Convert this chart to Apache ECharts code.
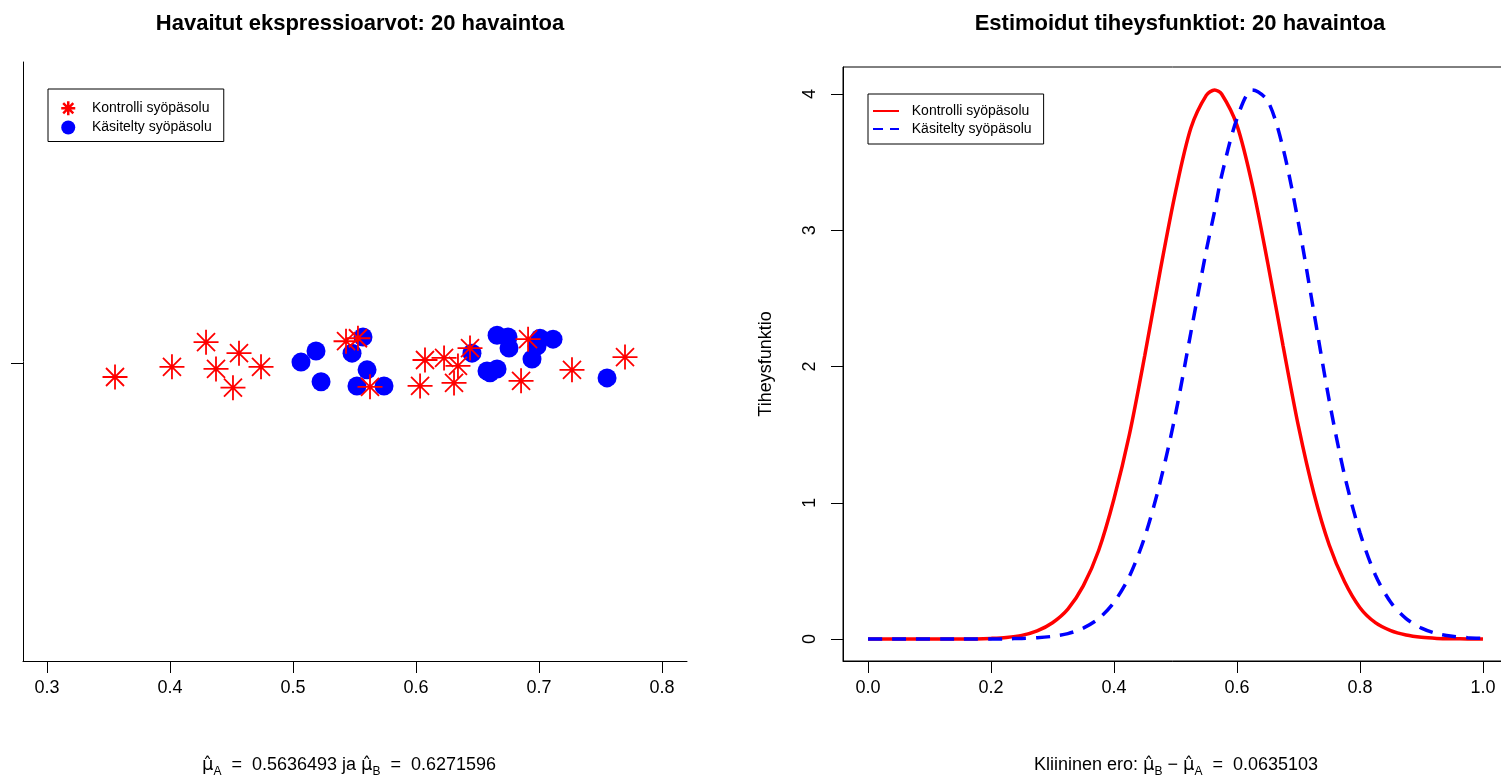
<!DOCTYPE html>
<html>
<head>
<meta charset="utf-8">
<script src="https://cdn.jsdelivr.net/npm/echarts@6/dist/echarts.min.js"></script>
<style>
  html, body { margin: 0; padding: 0; background: #fff; }
  #main { width: 1501px; height: 778px; }
</style>
</head>
<body>
<div id="main"></div>
<script>
// havainnot (vasen kuva)
const ctrlX = [0.3553, 0.4016, 0.4293, 0.4374, 0.4561, 0.4512, 0.474, 0.5431, 0.5528, 0.5626,
               0.6033, 0.6073, 0.6228, 0.6341, 0.6309, 0.6439, 0.6911, 0.6854, 0.7268, 0.7699];
const ctrlY = [0.953, 0.987, 1.070, 0.980, 1.033, 0.917, 0.987, 1.073, 1.083, 0.920,
               0.923, 1.010, 1.017, 0.990, 0.933, 1.050, 1.080, 0.940, 0.977, 1.020];
const trtX = [0.5065, 0.5187, 0.5228, 0.548, 0.5569, 0.5602, 0.552, 0.574, 0.6455, 0.6659,
              0.6748, 0.6756, 0.6602, 0.6659, 0.6943, 0.7008, 0.7114, 0.7553, 0.6984, 0.6577];
const trtY = [1.003, 1.040, 0.937, 1.033, 1.087, 0.977, 0.923, 0.923, 1.033, 1.093,
              1.087, 1.050, 0.967, 0.980, 1.013, 1.083, 1.080, 0.950, 1.057, 0.973];

// tiheysfunktiot (oikea kuva)
const gridX = [0, 0.025, 0.05, 0.075, 0.1, 0.125, 0.15, 0.175, 0.2, 0.225, 0.25, 0.275, 0.3, 0.325,
               0.35, 0.375, 0.4, 0.425, 0.45, 0.475, 0.5, 0.525, 0.55, 0.5636, 0.575, 0.6, 0.625, 0.65,
               0.675, 0.7, 0.725, 0.75, 0.775, 0.8, 0.825, 0.85, 0.875, 0.9, 0.925, 0.95, 0.975, 1.0];
const densA = [0, 0, 0, 0, 0, 0, 0, 0.001, 0.005, 0.012, 0.027, 0.06, 0.12, 0.22,
               0.39, 0.65, 1.03, 1.5, 2.08, 2.7, 3.28, 3.75, 3.99, 4.03, 4.0, 3.77, 3.33, 2.76,
               2.15, 1.56, 1.07, 0.69, 0.42, 0.23, 0.12, 0.062, 0.03, 0.013, 0.005, 0.002, 0.001, 0];
const densB = [0, 0, 0, 0, 0, 0, 0, 0, 0, 0.002, 0.005, 0.01, 0.02, 0.04,
               0.08, 0.15, 0.27, 0.46, 0.75, 1.15, 1.65, 2.25, 2.85, 3.14, 3.4, 3.82, 4.03, 3.95,
               3.6, 3.05, 2.4, 1.75, 1.2, 0.78, 0.47, 0.27, 0.15, 0.08, 0.04, 0.02, 0.01, 0.005];

const leftTicks = [0.3, 0.4, 0.5, 0.6, 0.7, 0.8];
const rightXTicks = [0, 0.2, 0.4, 0.6, 0.8, 1.0];
const rightYTicks = [0, 1, 2, 3, 4];

const labelsA = 'Kontrolli syöpäsolu';
const labelsB = 'Käsitelty syöpäsolu';

const FONT = '"Liberation Sans", Arial, Helvetica, sans-serif';
const MU_FONT = '"DejaVu Sans", "Liberation Sans", sans-serif';
const starPath = 'path://M0,-1L0,1M-1,0L1,0M-0.72,-0.72L0.72,0.72M-0.72,0.72L0.72,-0.72';

const chart = echarts.init(document.getElementById('main'));

const zip = (xs, ys) => xs.map((x, i) => [x, ys[i]]);

const formulaRich = {
  m: { fontSize: 18, fontFamily: MU_FONT, lineHeight: 26, verticalAlign: 'middle' },
  n: { fontSize: 18, fontFamily: FONT, lineHeight: 26, verticalAlign: 'middle' },
  s: { fontSize: 12, fontFamily: FONT, lineHeight: 26, verticalAlign: 'bottom' }
};

const option = {
  animation: false,
  textStyle: { fontFamily: FONT, color: '#000' },
  title: [
    { text: 'Havaitut ekspressioarvot: 20 havaintoa', left: 355, top: 8, textAlign: 'center',
      textStyle: { fontFamily: FONT, fontSize: 22, fontWeight: 'bold', color: '#000' } },
    { text: 'Estimoidut tiheysfunktiot: 20 havaintoa', left: 1175, top: 8, textAlign: 'center',
      textStyle: { fontFamily: FONT, fontSize: 22, fontWeight: 'bold', color: '#000' } }
  ],
  legend: [
    {
      left: 48, top: 89, orient: 'vertical',
      padding: [11, 12, 7, 12], itemGap: 4, itemWidth: 14, itemHeight: 14,
      borderColor: '#000', borderWidth: 1,
      formatter: name => '   ' + name,
      textStyle: { fontFamily: FONT, fontSize: 14, color: '#000' },
      data: [
        { name: labelsA, icon: starPath, itemStyle: { color: 'transparent', borderColor: '#ff0000', borderWidth: 2.5 } },
        { name: labelsB, icon: 'circle', itemStyle: { color: '#0000ff' } }
      ]
    },
    {
      left: 868, top: 94, orient: 'vertical',
      padding: [10, 12, 8, 4], itemGap: 4, itemWidth: 26, itemHeight: 14,
      borderColor: '#000', borderWidth: 1,
      formatter: name => '  ' + name.trim(),
      textStyle: { fontFamily: FONT, fontSize: 14, color: '#000' },
      data: [
        { name: labelsA + ' ', itemStyle: { opacity: 0 } },
        { name: labelsB + ' ', itemStyle: { opacity: 0 }, lineStyle: { type: [10, 7] } }
      ]
    }
  ],
  grid: [
    { left: 23, top: 62, width: 664, height: 599, outerBoundsMode: 'none', containLabel: false },
    { left: 843, top: 67, width: 665, height: 594, outerBoundsMode: 'none', containLabel: false,
      show: true, borderColor: '#000', borderWidth: 1, backgroundColor: 'transparent' }
  ],
  xAxis: [
    {
      gridIndex: 0, type: 'value', min: 0.2805, max: 0.8203,
      splitLine: { show: false },
      axisLine: { show: true, onZero: false, lineStyle: { color: '#000', width: 1 } },
      axisTick: { show: true, inside: false, length: 12, customValues: leftTicks, lineStyle: { color: '#000' } },
      axisLabel: { customValues: leftTicks, margin: 18, fontSize: 18, color: '#000', fontFamily: FONT,
        formatter: v => v.toFixed(1) }
    },
    {
      gridIndex: 1, type: 'value', min: -0.0407, max: 1.0407,
      splitLine: { show: false },
      axisLine: { show: true, onZero: false, lineStyle: { color: '#000', width: 1 } },
      axisTick: { show: true, inside: false, length: 12, customValues: rightXTicks, lineStyle: { color: '#000' } },
      axisLabel: { customValues: rightXTicks, margin: 18, fontSize: 18, color: '#000', fontFamily: FONT,
        formatter: v => v.toFixed(1) }
    }
  ],
  yAxis: [
    {
      gridIndex: 0, type: 'value', min: 0, max: 2.01,
      splitLine: { show: false },
      axisLine: { show: true, onZero: false, lineStyle: { color: '#000', width: 1 } },
      axisTick: { show: true, inside: false, length: 12, customValues: [1], lineStyle: { color: '#000' } },
      axisLabel: { show: false }
    },
    {
      gridIndex: 1, type: 'value', min: -0.161, max: 4.198,
      name: 'Tiheysfunktio', nameLocation: 'middle', nameGap: 68, nameRotate: 90,
      nameTextStyle: { fontSize: 18, color: '#000', fontFamily: FONT },
      splitLine: { show: false },
      axisLine: { show: true, onZero: false, lineStyle: { color: '#000', width: 1 } },
      axisTick: { show: true, inside: false, length: 12, customValues: rightYTicks, lineStyle: { color: '#000' } },
      axisLabel: { customValues: rightYTicks, margin: 24, rotate: 90, fontSize: 18, color: '#000', fontFamily: FONT }
    }
  ],
  series: [
    {
      name: labelsB, type: 'scatter', xAxisIndex: 0, yAxisIndex: 0,
      symbol: 'circle', symbolSize: 19,
      itemStyle: { color: '#0000ff', opacity: 1 },
      data: zip(trtX, trtY)
    },
    {
      name: labelsA, type: 'scatter', xAxisIndex: 0, yAxisIndex: 0,
      symbol: starPath, symbolSize: 25,
      itemStyle: { color: 'transparent', borderColor: '#ff0000', borderWidth: 1.8, opacity: 1 },
      data: zip(ctrlX, ctrlY)
    },
    {
      name: labelsA + ' ', type: 'line', xAxisIndex: 1, yAxisIndex: 1,
      showSymbol: false, symbol: 'none', smooth: 0.3,
      lineStyle: { color: '#ff0000', width: 3.5 },
      itemStyle: { color: '#ff0000' },
      data: zip(gridX, densA)
    },
    {
      name: labelsB + ' ', type: 'line', xAxisIndex: 1, yAxisIndex: 1,
      showSymbol: false, symbol: 'none', smooth: 0.3,
      lineStyle: { color: '#0000ff', width: 3.5, type: [14, 10] },
      itemStyle: { color: '#0000ff' },
      data: zip(gridX, densB)
    }
  ],
  graphic: [
    {
      type: 'text', x: 349, y: 765,
      style: {
        text: '{m|μ̂}{s|A}{n|  =  0.5636493 ja }{m|μ̂}{s|B}{n|  =  0.6271596}',
        align: 'center', verticalAlign: 'middle', fill: '#000', font: '18px ' + FONT,
        rich: formulaRich
      }
    },
    {
      type: 'text', x: 1176, y: 765,
      style: {
        text: '{n|Kliininen ero: }{m|μ̂}{s|B}{n| − }{m|μ̂}{s|A}{n|  =  0.0635103}',
        align: 'center', verticalAlign: 'middle', fill: '#000', font: '18px ' + FONT,
        rich: formulaRich
      }
    }
  ]
};

chart.setOption(option);
</script>
</body>
</html>
